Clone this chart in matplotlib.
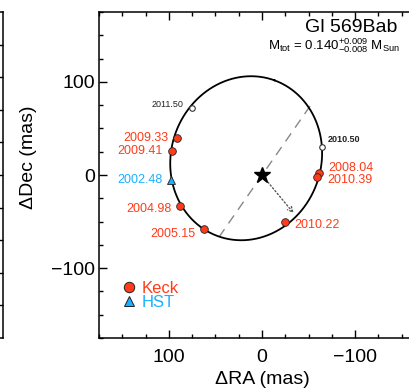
import numpy as np
import matplotlib
matplotlib.use("Agg")
import matplotlib.pyplot as plt
from matplotlib.lines import Line2D

plt.rcParams['font.family'] = ['Liberation Sans', 'DejaVu Sans']
plt.rcParams['mathtext.fontset'] = 'custom'
plt.rcParams['mathtext.rm'] = 'Liberation Sans'
plt.rcParams['mathtext.it'] = 'Liberation Sans:italic'
plt.rcParams['mathtext.bf'] = 'Liberation Sans:bold'

# ---------------- data ----------------
epochs = ['2002.48', '2004.98', '2005.15', '2008.04', '2009.33', '2009.41', '2010.22', '2010.39']
instrument = ['HST', 'Keck', 'Keck', 'Keck', 'Keck', 'Keck', 'Keck', 'Keck']
dra = [98, 88, 62, -61, 91, 97, -25, -59]
ddec = [-5, -33, -58, 2, 40, 26, -50, -2]

pred_epochs = ['2010.50', '2011.50']
pred_dra = [-64.5, 75]
pred_ddec = [30, 72]

# projected orbit (ellipse) parameters, mas / deg
orb_cx, orb_cy = 17.0, 18.0
orb_a, orb_b = 89.0, 80.5
orb_theta = 110.0

# line of nodes end points and periastron direction
nodes_dra = [46.2, -51.6]
nodes_ddec = [-66.7, 74.0]
peri_dra, peri_ddec = -34.0, -41.0

title = 'Gl 569Bab'
mass_text = r'M$_{\mathrm{tot}}$ = 0.140$^{+0.009}_{-0.008}$ M$_{\mathrm{Sun}}$'

# label offsets (points)
label_offsets = {
    '2002.48': (-5.8, 0), '2004.98': (-5.8, -2.2), '2005.15': (-6.5, -3.6),
    '2008.04': (6.5, 3.6), '2009.33': (-6.5, 0), '2009.41': (-6.5, 0),
    '2010.22': (6.5, -2.2), '2010.39': (7.2, -2.2),
    '2010.50': (4.3, 5.8), '2011.50': (-6.5, 2.2),
}

RED = '#FF3B1A'
BLUE = '#1AB0FF'
colors = {'Keck': RED, 'HST': BLUE}
markers = {'Keck': 'o', 'HST': '^'}

# ---------------- figure ----------------
W, H = 410, 390
fig = plt.figure(figsize=(W / 100, H / 100), dpi=100)

ax_l, ax_r, ax_t, ax_b = 99, 425, 12, 338
ax = fig.add_axes([ax_l / W, 1 - ax_b / H, (ax_r - ax_l) / W, (ax_b - ax_t) / H])

# neighbouring panel (mostly cropped)
ax0 = fig.add_axes([3 / W - 0.6, 1 - ax_b / H, 0.6, (ax_b - ax_t) / H])
ax0.set_ylim(-175, 175)
ax0.set_xlim(0, 1)
ax0.set_yticks(np.arange(-140, 175, 35))
ax0.tick_params(axis='y', which='both', direction='in', left=False, right=True,
                labelleft=False, length=4, width=1)
ax0.tick_params(axis='x', bottom=False, labelbottom=False)
for s in ax0.spines.values():
    s.set_linewidth(1.1)

# orbit
t = np.linspace(0, 2 * np.pi, 600)
th = np.deg2rad(orb_theta)
ex = orb_cx + orb_a * np.cos(t) * np.cos(th) - orb_b * np.sin(t) * np.sin(th)
ey = orb_cy + orb_a * np.cos(t) * np.sin(th) + orb_b * np.sin(t) * np.cos(th)
ax.plot(ex, ey, color='black', lw=1.3, zorder=2)

# line of nodes
ax.plot(nodes_dra, nodes_ddec, color='#888888', lw=1.0, ls=(0, (7, 5)), zorder=1)
# periastron arrow
ax.annotate('', xy=(peri_dra, peri_ddec), xytext=(0, 0),
            arrowprops=dict(arrowstyle='->', color='#555555', lw=1.0, ls=':',
                            shrinkA=4, shrinkB=0, mutation_scale=9), zorder=1)
# star
ax.plot([0], [0], marker='*', color='black', ms=12, zorder=4)

# predicted epochs
ax.plot(pred_dra, pred_ddec, 'o', ms=4, mfc='white', mec='#333333', mew=0.8, zorder=4)
for e, x, y in zip(pred_epochs, pred_dra, pred_ddec):
    dx, dy = label_offsets[e]
    ax.annotate(e, (x, y), xytext=(dx, dy), textcoords='offset points',
                ha='left' if dx > 0 else 'right', va='center', fontsize=6.5,
                color='#222222', fontweight='bold' if dx > 0 else 'normal')

# measured epochs
for e, ins, x, y in zip(epochs, instrument, dra, ddec):
    ax.plot([x], [y], markers[ins], ms=5.5,
            mfc=colors[ins], mec='#222222', mew=0.6, zorder=5)
    dx, dy = label_offsets[e]
    ax.annotate(e, (x, y), xytext=(dx, dy), textcoords='offset points',
                ha='left' if dx > 0 else 'right', va='center', fontsize=9,
                color=colors[ins])

ax.set_xlim(175, -175)
ax.set_ylim(-175, 175)
ax.set_xticks([100, 0, -100])
ax.set_yticks([100, 0, -100])
ax.set_xticklabels(['100', '0', '\u2212100'])
ax.set_yticklabels(['100', '0', '\u2212100'])
ax.xaxis.set_minor_locator(matplotlib.ticker.MultipleLocator(25))
ax.yaxis.set_minor_locator(matplotlib.ticker.MultipleLocator(25))
ax.tick_params(which='both', direction='in', top=True, right=True, width=1.0)
ax.tick_params(which='major', length=6, labelsize=14)
ax.tick_params(which='minor', length=3)
ax.tick_params(axis='x', which='major', pad=8)
ax.tick_params(axis='y', which='major', pad=3)
for s in ax.spines.values():
    s.set_linewidth(1.1)

ax.set_xlabel('\u0394RA (mas)', fontsize=14)
ax.set_ylabel('\u0394Dec (mas)', fontsize=14)
ax.xaxis.set_label_coords(0.5, -0.1)
ax.yaxis.set_label_coords(-0.19, 0.555)

ax.text(0.914, 0.951, title, transform=ax.transAxes, ha='right', va='center', fontsize=14)
ax.text(0.923, 0.896, mass_text, transform=ax.transAxes, ha='right', va='center', fontsize=9.5)

# legend
handles = [Line2D([], [], ls='', marker=markers[k], ms=7.5, mfc=colors[k], mec='#222222', mew=0.7)
           for k in ['Keck', 'HST']]
leg = ax.legend(handles, ['Keck', 'HST'], loc='upper left', bbox_to_anchor=(0.045, 0.2),
                frameon=False, fontsize=12, handlelength=0.8, handletextpad=0.35,
                labelspacing=-0.05, borderpad=0, labelcolor=[RED, BLUE])

fig.savefig('out.png', dpi=100)
